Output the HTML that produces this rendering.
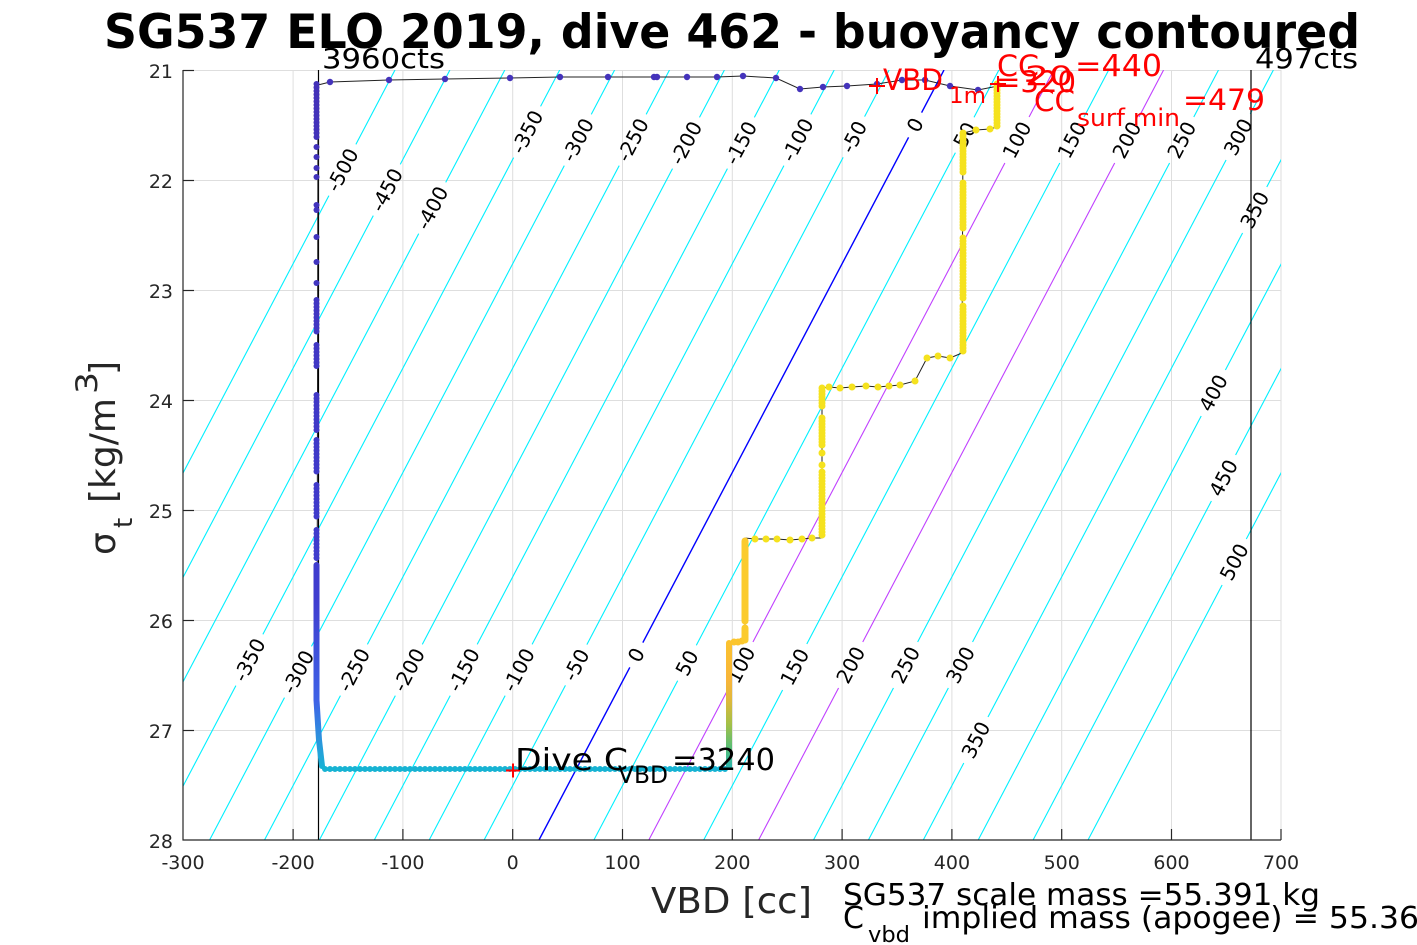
<!DOCTYPE html>
<html><head><meta charset="utf-8">
<style>html,body{margin:0;padding:0;background:#fff;}svg{display:block;}</style>
</head><body>
<svg width="1417" height="945" viewBox="0 0 1417 945" xmlns="http://www.w3.org/2000/svg" font-family="'DejaVu Sans','Liberation Sans',sans-serif">
<defs>
<clipPath id="pc"><rect x="183" y="70" width="1098" height="770"/></clipPath>
<linearGradient id="gd" gradientUnits="userSpaceOnUse" x1="0" y1="84" x2="0" y2="770">
 <stop offset="0" stop-color="#4331b8"/>
 <stop offset="0.75" stop-color="#3f3dcf"/>
 <stop offset="0.9" stop-color="#3e62e6"/>
 <stop offset="0.96" stop-color="#2a98dc"/>
 <stop offset="1" stop-color="#17b4d4"/>
</linearGradient>
<linearGradient id="go" gradientUnits="userSpaceOnUse" x1="0" y1="768" x2="0" y2="643">
 <stop offset="0" stop-color="#2cb6b0"/>
 <stop offset="0.15" stop-color="#52bd78"/>
 <stop offset="0.35" stop-color="#a3c048"/>
 <stop offset="0.55" stop-color="#e1b83a"/>
 <stop offset="0.7" stop-color="#f8b53a"/>
 <stop offset="1" stop-color="#fbc22f"/>
</linearGradient>
<mask id="gm" maskUnits="userSpaceOnUse" x="0" y="0" width="1417" height="945">
 <rect x="0" y="0" width="1417" height="945" fill="#fff"/>
 <g fill="#000">
  <rect transform="translate(342.4,170) rotate(-62.25)" x="-29" y="-4" width="58" height="8"/>
  <rect transform="translate(386.8,190) rotate(-62.25)" x="-29" y="-4" width="58" height="8"/>
  <rect transform="translate(432.2,208) rotate(-62.25)" x="-29" y="-4" width="58" height="8"/>
  <rect transform="translate(527.1,132) rotate(-62.25)" x="-29" y="-4" width="58" height="8"/>
  <rect transform="translate(577.8,140) rotate(-62.25)" x="-29" y="-4" width="58" height="8"/>
  <rect transform="translate(632.7,140) rotate(-62.25)" x="-29" y="-4" width="58" height="8"/>
  <rect transform="translate(686,143) rotate(-62.25)" x="-29" y="-4" width="58" height="8"/>
  <rect transform="translate(740.9,143) rotate(-62.25)" x="-29" y="-4" width="58" height="8"/>
  <rect transform="translate(797.4,140) rotate(-62.25)" x="-29" y="-4" width="58" height="8"/>
  <rect transform="translate(853.9,137) rotate(-62.25)" x="-23" y="-4" width="46" height="8"/>
  <rect transform="translate(915.1,125) rotate(-62.25)" x="-14" y="-4" width="28" height="8"/>
  <rect transform="translate(964.7,135) rotate(-62.25)" x="-20" y="-4" width="40" height="8"/>
  <rect transform="translate(1017,140) rotate(-62.25)" x="-26" y="-4" width="52" height="8"/>
  <rect transform="translate(1071.9,140) rotate(-62.25)" x="-26" y="-4" width="52" height="8"/>
  <rect transform="translate(1126.8,140) rotate(-62.25)" x="-26" y="-4" width="52" height="8"/>
  <rect transform="translate(1181.7,140) rotate(-62.25)" x="-26" y="-4" width="52" height="8"/>
  <rect transform="translate(1238.2,137) rotate(-62.25)" x="-26" y="-4" width="52" height="8"/>
  <rect transform="translate(1254.7,210) rotate(-62.25)" x="-26" y="-4" width="52" height="8"/>
  <rect transform="translate(1213.3,393) rotate(-62.25)" x="-26" y="-4" width="52" height="8"/>
  <rect transform="translate(1223.5,478) rotate(-62.25)" x="-26" y="-4" width="52" height="8"/>
  <rect transform="translate(1234.2,562) rotate(-62.25)" x="-26" y="-4" width="52" height="8"/>
  <rect transform="translate(249.4,660) rotate(-62.25)" x="-29" y="-4" width="58" height="8"/>
  <rect transform="translate(298,672) rotate(-62.25)" x="-29" y="-4" width="58" height="8"/>
  <rect transform="translate(353.9,670) rotate(-62.25)" x="-29" y="-4" width="58" height="8"/>
  <rect transform="translate(408.8,670) rotate(-62.25)" x="-29" y="-4" width="58" height="8"/>
  <rect transform="translate(463.7,670) rotate(-62.25)" x="-29" y="-4" width="58" height="8"/>
  <rect transform="translate(518.6,670) rotate(-62.25)" x="-29" y="-4" width="58" height="8"/>
  <rect transform="translate(576.2,665) rotate(-62.25)" x="-23" y="-4" width="46" height="8"/>
  <rect transform="translate(636.3,655) rotate(-62.25)" x="-14" y="-4" width="28" height="8"/>
  <rect transform="translate(687,663) rotate(-62.25)" x="-20" y="-4" width="40" height="8"/>
  <rect transform="translate(740.9,665) rotate(-62.25)" x="-26" y="-4" width="52" height="8"/>
  <rect transform="translate(794.7,667) rotate(-62.25)" x="-26" y="-4" width="52" height="8"/>
  <rect transform="translate(850.7,665) rotate(-62.25)" x="-26" y="-4" width="52" height="8"/>
  <rect transform="translate(905.6,665) rotate(-62.25)" x="-26" y="-4" width="52" height="8"/>
  <rect transform="translate(960.5,665) rotate(-62.25)" x="-26" y="-4" width="52" height="8"/>
  <rect transform="translate(975.9,740) rotate(-62.25)" x="-26" y="-4" width="52" height="8"/>
 </g>
</mask>
</defs>

<rect x="0" y="0" width="1417" height="945" fill="#fff"/>

<!-- grid -->
<g stroke="#dedede" stroke-width="1">
 <line x1="293.1" y1="70" x2="293.1" y2="840"/>
 <line x1="402.9" y1="70" x2="402.9" y2="840"/>
 <line x1="512.7" y1="70" x2="512.7" y2="840"/>
 <line x1="622.5" y1="70" x2="622.5" y2="840"/>
 <line x1="732.3" y1="70" x2="732.3" y2="840"/>
 <line x1="842.1" y1="70" x2="842.1" y2="840"/>
 <line x1="951.9" y1="70" x2="951.9" y2="840"/>
 <line x1="1061.7" y1="70" x2="1061.7" y2="840"/>
 <line x1="1171.5" y1="70" x2="1171.5" y2="840"/>
 <line x1="1281" y1="70" x2="1281" y2="840"/>
 <line x1="183" y1="70.5" x2="1281" y2="70.5"/>
 <line x1="183" y1="180.5" x2="1281" y2="180.5"/>
 <line x1="183" y1="290.5" x2="1281" y2="290.5"/>
 <line x1="183" y1="400.5" x2="1281" y2="400.5"/>
 <line x1="183" y1="510.5" x2="1281" y2="510.5"/>
 <line x1="183" y1="620.5" x2="1281" y2="620.5"/>
 <line x1="183" y1="730.5" x2="1281" y2="730.5"/>
</g>

<!-- contours -->
<g clip-path="url(#pc)">
<g mask="url(#gm)" stroke-width="1.1" fill="none">
 <g stroke="#00f0ff">
  <line x1="-10" y1="840" x2="395" y2="70"/>
  <line x1="44.9" y1="840" x2="449.9" y2="70"/>
  <line x1="99.8" y1="840" x2="504.8" y2="70"/>
  <line x1="154.7" y1="840" x2="559.7" y2="70"/>
  <line x1="209.6" y1="840" x2="614.6" y2="70"/>
  <line x1="264.5" y1="840" x2="669.5" y2="70"/>
  <line x1="319.4" y1="840" x2="724.4" y2="70"/>
  <line x1="374.3" y1="840" x2="779.3" y2="70"/>
  <line x1="429.2" y1="840" x2="834.2" y2="70"/>
  <line x1="484.1" y1="840" x2="889.1" y2="70"/>
  <line x1="593.9" y1="840" x2="998.9" y2="70"/>
  <line x1="703.7" y1="840" x2="1108.7" y2="70"/>
  <line x1="813.5" y1="840" x2="1218.5" y2="70"/>
  <line x1="868.4" y1="840" x2="1273.4" y2="70"/>
  <line x1="923.3" y1="840" x2="1328.3" y2="70"/>
  <line x1="978.2" y1="840" x2="1383.2" y2="70"/>
  <line x1="1033.1" y1="840" x2="1438.1" y2="70"/>
  <line x1="1088" y1="840" x2="1493" y2="70"/>
 </g>
 <g stroke="#c040ff">
  <line x1="648.8" y1="840" x2="1053.8" y2="70"/>
  <line x1="758.6" y1="840" x2="1163.6" y2="70"/>
 </g>
 <line x1="539" y1="840" x2="944" y2="70" stroke="#0000ff" stroke-width="1.4"/>
</g>
</g>

<!-- contour labels -->
<g font-size="20" text-anchor="middle" fill="#000">
 <text transform="translate(342.4,170) rotate(-62.25)" dy="7">-500</text>
 <text transform="translate(386.8,190) rotate(-62.25)" dy="7">-450</text>
 <text transform="translate(432.2,208) rotate(-62.25)" dy="7">-400</text>
 <text transform="translate(527.1,132) rotate(-62.25)" dy="7">-350</text>
 <text transform="translate(577.8,140) rotate(-62.25)" dy="7">-300</text>
 <text transform="translate(632.7,140) rotate(-62.25)" dy="7">-250</text>
 <text transform="translate(686,143) rotate(-62.25)" dy="7">-200</text>
 <text transform="translate(740.9,143) rotate(-62.25)" dy="7">-150</text>
 <text transform="translate(797.4,140) rotate(-62.25)" dy="7">-100</text>
 <text transform="translate(853.9,137) rotate(-62.25)" dy="7">-50</text>
 <text transform="translate(915.1,125) rotate(-62.25)" dy="7">0</text>
 <text transform="translate(964.7,135) rotate(-62.25)" dy="7">50</text>
 <text transform="translate(1017,140) rotate(-62.25)" dy="7">100</text>
 <text transform="translate(1071.9,140) rotate(-62.25)" dy="7">150</text>
 <text transform="translate(1126.8,140) rotate(-62.25)" dy="7">200</text>
 <text transform="translate(1181.7,140) rotate(-62.25)" dy="7">250</text>
 <text transform="translate(1238.2,137) rotate(-62.25)" dy="7">300</text>
 <text transform="translate(1254.7,210) rotate(-62.25)" dy="7">350</text>
 <text transform="translate(1213.3,393) rotate(-62.25)" dy="7">400</text>
 <text transform="translate(1223.5,478) rotate(-62.25)" dy="7">450</text>
 <text transform="translate(1234.2,562) rotate(-62.25)" dy="7">500</text>
 <text transform="translate(249.4,660) rotate(-62.25)" dy="7">-350</text>
 <text transform="translate(298,672) rotate(-62.25)" dy="7">-300</text>
 <text transform="translate(353.9,670) rotate(-62.25)" dy="7">-250</text>
 <text transform="translate(408.8,670) rotate(-62.25)" dy="7">-200</text>
 <text transform="translate(463.7,670) rotate(-62.25)" dy="7">-150</text>
 <text transform="translate(518.6,670) rotate(-62.25)" dy="7">-100</text>
 <text transform="translate(576.2,665) rotate(-62.25)" dy="7">-50</text>
 <text transform="translate(636.3,655) rotate(-62.25)" dy="7">0</text>
 <text transform="translate(687,663) rotate(-62.25)" dy="7">50</text>
 <text transform="translate(740.9,665) rotate(-62.25)" dy="7">100</text>
 <text transform="translate(794.7,667) rotate(-62.25)" dy="7">150</text>
 <text transform="translate(850.7,665) rotate(-62.25)" dy="7">200</text>
 <text transform="translate(905.6,665) rotate(-62.25)" dy="7">250</text>
 <text transform="translate(960.5,665) rotate(-62.25)" dy="7">300</text>
 <text transform="translate(975.9,740) rotate(-62.25)" dy="7">350</text>
</g>

<!-- vertical count lines -->
<line x1="318.5" y1="70" x2="318.5" y2="840" stroke="#000" stroke-width="1.2"/>
<line x1="1251" y1="70" x2="1251" y2="840" stroke="#000" stroke-width="1.2"/>

<!-- black trace -->
<g fill="none" stroke="#222" stroke-width="1">
 <polyline points="318,85 330,82 389,80 445,79 510,78 560,77 608,77 655,77 687,77 717,77 743,76 776,78 800,89 823,87 847,86 877,84 902,80 925,80 950,86 978,90 998,86"/>
 <polyline points="318,85 317,700 320,745 323,768 729,769 729,643 745,641 745,538 755,539 766,539 777,539 790,540 802,539 812,538 822,538 822,388 829,387 840,388 852,387 866,386 878,387 889,386 900,385 915,381 927,358 938,356 950,358 962,353 963,133 976,130 990,129 997,127 998,86"/>
</g>

<!-- top trace dots -->
<g fill="#4433bb">
 <circle cx="330" cy="82" r="3.2"/><circle cx="389" cy="80" r="3.2"/><circle cx="445" cy="79" r="3.2"/>
 <circle cx="510" cy="78" r="3.2"/><circle cx="560" cy="77" r="3.2"/><circle cx="608" cy="77" r="3.2"/>
 <circle cx="654" cy="77" r="3.2"/><circle cx="657" cy="77" r="3.2"/><circle cx="687" cy="77" r="3.2"/>
 <circle cx="717" cy="77" r="3.2"/><circle cx="743" cy="76" r="3.2"/><circle cx="776" cy="78" r="3.2"/>
 <circle cx="800" cy="89" r="3.2"/><circle cx="823" cy="87" r="3.2"/><circle cx="847" cy="86" r="3.2"/>
 <circle cx="877" cy="84" r="3.2"/><circle cx="902" cy="80" r="3.2"/><circle cx="925" cy="80" r="3.2"/>
 <circle cx="950" cy="86" r="3.2"/><circle cx="978" cy="90" r="3.2"/>
</g>

<!-- descent column -->
<g stroke="url(#gd)" stroke-width="6" stroke-linecap="round" fill="none" stroke-dasharray="0 3.5">
 <line x1="316.5" y1="84" x2="316.5" y2="135"/>
 <line x1="316.5" y1="300" x2="316.5" y2="332"/>
 <line x1="316.5" y1="345" x2="316.5" y2="368"/>
 <line x1="316.5" y1="395" x2="316.5" y2="432"/>
 <line x1="316.5" y1="440" x2="316.5" y2="472"/>
 <line x1="316.5" y1="485" x2="316.5" y2="520"/>
 <line x1="316.5" y1="530" x2="316.5" y2="560"/>
</g>
<g stroke="url(#gd)" stroke-width="6" stroke-linecap="round" fill="none">
 <polyline points="316.5,565 316.5,700 319,740 322,766"/>
</g>
<g fill="url(#gd)">
 <circle cx="316.5" cy="137" r="3"/><circle cx="316.5" cy="147" r="3"/><circle cx="316.5" cy="157" r="3"/>
 <circle cx="316.5" cy="168" r="3"/><circle cx="316.5" cy="177" r="3"/><circle cx="316.5" cy="205" r="3"/>
 <circle cx="316.5" cy="210" r="3"/><circle cx="316.5" cy="237" r="3"/><circle cx="316.5" cy="262" r="3"/>
 <circle cx="316.5" cy="283" r="3"/>
</g>

<!-- bottom horizontal row -->
<line x1="325" y1="769" x2="728" y2="769" stroke="#17b3d3" stroke-width="6" stroke-linecap="round" stroke-dasharray="0 5"/>

<!-- rising column -->
<line x1="729" y1="643" x2="729" y2="767" stroke="url(#go)" stroke-width="6" stroke-linecap="round"/>
<g fill="#fbc52e">
 <circle cx="734" cy="642" r="3.5"/><circle cx="738" cy="642" r="3.5"/><circle cx="742" cy="641" r="3.5"/>
</g>
<g stroke="#fbcb2d" stroke-width="7" stroke-linecap="round" fill="none">
 <line x1="745" y1="628" x2="745" y2="640"/>
 <line x1="745" y1="541" x2="745" y2="621"/>
</g>
<g fill="#f5e21e">
 <circle cx="755" cy="539" r="3.5"/><circle cx="766" cy="539" r="3.5"/><circle cx="777" cy="539" r="3.5"/>
 <circle cx="790" cy="540" r="3.5"/><circle cx="802" cy="539" r="3.5"/><circle cx="812" cy="538" r="3.5"/>
 <circle cx="829" cy="387" r="3.5"/><circle cx="840" cy="388" r="3.5"/><circle cx="852" cy="387" r="3.5"/>
 <circle cx="866" cy="386" r="3.5"/><circle cx="878" cy="387" r="3.5"/><circle cx="889" cy="386" r="3.5"/>
 <circle cx="900" cy="385" r="3.5"/><circle cx="915" cy="381" r="3.5"/>
 <circle cx="927" cy="358" r="3.5"/><circle cx="938" cy="356" r="3.5"/><circle cx="950" cy="358" r="3.5"/>
 <circle cx="976" cy="130" r="3.5"/><circle cx="990" cy="129" r="3.5"/>
 <circle cx="822" cy="453" r="3.5"/><circle cx="822" cy="465" r="3.5"/>
</g>
<g stroke="#f5e21e" stroke-width="7" stroke-linecap="round" fill="none" stroke-dasharray="0 3">
 <line x1="822" y1="388" x2="822" y2="408"/>
 <line x1="822" y1="418" x2="822" y2="447"/>
 <line x1="822" y1="472" x2="822" y2="538"/>
 <line x1="963" y1="133" x2="963" y2="175"/>
 <line x1="963" y1="183" x2="963" y2="230"/>
 <line x1="963" y1="238" x2="963" y2="300"/>
 <line x1="963" y1="306" x2="963" y2="353"/>
 <line x1="997" y1="84" x2="997" y2="127"/>
</g>

<!-- red markers -->
<g stroke="#ff0000" stroke-width="2">
 <line x1="869" y1="86" x2="885" y2="86"/><line x1="877" y1="78" x2="877" y2="94"/>
 <line x1="990" y1="84" x2="1006" y2="84"/><line x1="998" y1="76" x2="998" y2="92"/>
 <line x1="506" y1="770.5" x2="520" y2="770.5"/><line x1="513" y1="763.5" x2="513" y2="777.5"/>
</g>

<!-- red annotations -->
<g fill="#ff0000">
 <text x="883" y="90" font-size="29" textLength="60" lengthAdjust="spacingAndGlyphs">VBD</text>
 <text x="949" y="103" font-size="22" textLength="37" lengthAdjust="spacingAndGlyphs">1m</text>
 <text x="996" y="92" font-size="29" textLength="80" lengthAdjust="spacingAndGlyphs">=320</text>
 <text x="997" y="76" font-size="29" textLength="42" lengthAdjust="spacingAndGlyphs">CC</text>
 <text x="1025" y="85" font-size="27" textLength="48" lengthAdjust="spacingAndGlyphs">20</text>
 <text x="1075" y="76" font-size="30" textLength="87" lengthAdjust="spacingAndGlyphs">=440</text>
 <text x="1034" y="111" font-size="29" textLength="41" lengthAdjust="spacingAndGlyphs">CC</text>
 <text x="1077" y="126" font-size="24" textLength="103" lengthAdjust="spacingAndGlyphs">surf min</text>
 <text x="1183" y="110" font-size="29" textLength="82" lengthAdjust="spacingAndGlyphs">=479</text>
</g>

<!-- Dive C_VBD -->
<g fill="#000">
 <text x="515" y="770" font-size="30" textLength="113" lengthAdjust="spacingAndGlyphs">Dive C</text>
 <text x="618" y="783" font-size="24" textLength="50" lengthAdjust="spacingAndGlyphs">VBD</text>
 <text x="672" y="770" font-size="30" textLength="103" lengthAdjust="spacingAndGlyphs">=3240</text>
</g>

<!-- axes -->
<g stroke="#262626" stroke-width="1.2" fill="none">
 <line x1="183" y1="70" x2="183" y2="840.5"/>
 <line x1="182.5" y1="840" x2="1281" y2="840"/>
 <line x1="183" y1="70.5" x2="194" y2="70.5"/>
 <line x1="183" y1="180.5" x2="194" y2="180.5"/>
 <line x1="183" y1="290.5" x2="194" y2="290.5"/>
 <line x1="183" y1="400.5" x2="194" y2="400.5"/>
 <line x1="183" y1="510.5" x2="194" y2="510.5"/>
 <line x1="183" y1="620.5" x2="194" y2="620.5"/>
 <line x1="183" y1="730.5" x2="194" y2="730.5"/>
 <line x1="293.1" y1="840" x2="293.1" y2="829"/>
 <line x1="402.9" y1="840" x2="402.9" y2="829"/>
 <line x1="512.7" y1="840" x2="512.7" y2="829"/>
 <line x1="622.5" y1="840" x2="622.5" y2="829"/>
 <line x1="732.3" y1="840" x2="732.3" y2="829"/>
 <line x1="842.1" y1="840" x2="842.1" y2="829"/>
 <line x1="951.9" y1="840" x2="951.9" y2="829"/>
 <line x1="1061.7" y1="840" x2="1061.7" y2="829"/>
 <line x1="1171.5" y1="840" x2="1171.5" y2="829"/>
 <line x1="1281" y1="840" x2="1281" y2="829"/>
</g>

<!-- tick labels -->
<g font-size="19" fill="#262626" text-anchor="middle">
 <text x="183" y="869">-300</text>
 <text x="293.1" y="869">-200</text>
 <text x="402.9" y="869">-100</text>
 <text x="512.7" y="869">0</text>
 <text x="622.5" y="869">100</text>
 <text x="732.3" y="869">200</text>
 <text x="842.1" y="869">300</text>
 <text x="951.9" y="869">400</text>
 <text x="1061.7" y="869">500</text>
 <text x="1171.5" y="869">600</text>
 <text x="1281" y="869">700</text>
</g>
<g font-size="19" fill="#262626" text-anchor="end">
 <text x="173" y="78">21</text>
 <text x="173" y="188">22</text>
 <text x="173" y="298">23</text>
 <text x="173" y="408">24</text>
 <text x="173" y="518">25</text>
 <text x="173" y="628">26</text>
 <text x="173" y="738">27</text>
 <text x="173" y="848">28</text>
</g>

<!-- counts labels -->
<text x="322" y="68" font-size="28" fill="#000" textLength="123" lengthAdjust="spacingAndGlyphs">3960cts</text>
<text x="1255" y="68" font-size="28" fill="#000" textLength="103" lengthAdjust="spacingAndGlyphs">497cts</text>

<!-- title -->
<text x="104" y="48" font-size="47" font-weight="bold" fill="#000" textLength="1256" lengthAdjust="spacingAndGlyphs">SG537 ELO 2019, dive 462 - buoyancy contoured</text>

<!-- y label -->
<g fill="#262626">
 <text transform="translate(115,555) rotate(-90)" font-size="36">σ</text>
 <text transform="translate(132,528) rotate(-90)" font-size="26">t</text>
 <text transform="translate(115,503) rotate(-90)" font-size="36" textLength="105" lengthAdjust="spacingAndGlyphs">[kg/m</text>
 <text transform="translate(97,394) rotate(-90)" font-size="29" textLength="22" lengthAdjust="spacingAndGlyphs">3</text>
 <text transform="translate(115,375) rotate(-90)" font-size="36">]</text>
</g>

<!-- x label + notes -->
<text x="651" y="913" font-size="36" fill="#262626" textLength="161" lengthAdjust="spacingAndGlyphs">VBD [cc]</text>
<text x="843" y="905" font-size="30" fill="#000" textLength="477" lengthAdjust="spacingAndGlyphs">SG537 scale mass =55.391 kg</text>
<text x="843" y="928" font-size="30" fill="#000">C</text>
<text x="868" y="942" font-size="22" fill="#000" textLength="42" lengthAdjust="spacingAndGlyphs">vbd</text>
<text x="922" y="928" font-size="30" fill="#000" textLength="497" lengthAdjust="spacingAndGlyphs">implied mass (apogee) = 55.36</text>
</svg>
</body></html>
